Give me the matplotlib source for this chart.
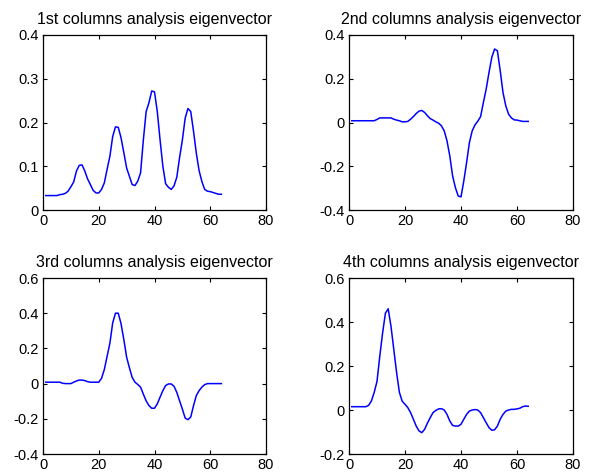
import matplotlib
matplotlib.use("Agg")
import matplotlib.pyplot as plt

plt.rcParams['font.family'] = ['Liberation Sans', 'DejaVu Sans']

x = list(range(1, 65))

col1 = [0.033, 0.033, 0.033, 0.033, 0.033, 0.035, 0.036, 0.038, 0.043, 0.053,
        0.064, 0.089, 0.102, 0.103, 0.089, 0.071, 0.058, 0.045, 0.039, 0.039,
        0.047, 0.062, 0.093, 0.123, 0.168, 0.190, 0.189, 0.165, 0.131, 0.096,
        0.077, 0.058, 0.056, 0.066, 0.085, 0.160, 0.225, 0.245, 0.272, 0.270,
        0.225, 0.160, 0.100, 0.060, 0.052, 0.047, 0.055, 0.075, 0.120, 0.160,
        0.210, 0.232, 0.225, 0.180, 0.130, 0.090, 0.065, 0.047, 0.043, 0.042,
        0.040, 0.038, 0.036, 0.036]

col2 = [0.008, 0.008, 0.008, 0.008, 0.008, 0.008, 0.008, 0.008, 0.008, 0.014,
        0.021, 0.021, 0.021, 0.021, 0.021, 0.015, 0.011, 0.008, 0.003, 0.003,
        0.005, 0.015, 0.027, 0.041, 0.052, 0.055, 0.046, 0.031, 0.018, 0.011,
        0.003, -0.003, -0.015, -0.038, -0.084, -0.153, -0.244, -0.298, -0.336, -0.340,
        -0.267, -0.183, -0.092, -0.038, -0.011, 0.006, 0.027, 0.092, 0.153, 0.229,
        0.298, 0.336, 0.328, 0.237, 0.137, 0.076, 0.038, 0.021, 0.012, 0.011,
        0.008, 0.005, 0.005, 0.005]

col3 = [0.008, 0.008, 0.008, 0.008, 0.008, 0.008, 0.002, 0.000, 0.000, 0.000,
        0.008, 0.015, 0.020, 0.020, 0.017, 0.011, 0.008, 0.008, 0.008, 0.008,
        0.030, 0.080, 0.155, 0.230, 0.345, 0.400, 0.400, 0.340, 0.250, 0.150,
        0.090, 0.035, 0.008, -0.005, -0.020, -0.060, -0.098, -0.125, -0.140, -0.140,
        -0.115, -0.077, -0.040, -0.011, -0.002, -0.002, -0.015, -0.050, -0.098, -0.145,
        -0.196, -0.205, -0.190, -0.125, -0.068, -0.040, -0.020, -0.006, 0.000, 0.000,
        0.000, 0.000, 0.000, 0.000]

col4 = [0.015, 0.015, 0.015, 0.015, 0.015, 0.015, 0.021, 0.041, 0.080, 0.130,
        0.245, 0.350, 0.440, 0.460, 0.380, 0.275, 0.170, 0.080, 0.040, 0.026,
        0.011, -0.012, -0.042, -0.073, -0.095, -0.103, -0.088, -0.060, -0.035, -0.012,
        -0.002, 0.005, 0.006, 0.000, -0.020, -0.050, -0.070, -0.073, -0.073, -0.065,
        -0.042, -0.020, -0.005, 0.000, 0.002, 0.000, -0.012, -0.035, -0.058, -0.080,
        -0.092, -0.090, -0.073, -0.042, -0.020, -0.005, 0.000, 0.003, 0.003, 0.005,
        0.008, 0.015, 0.018, 0.017]

titles = ["1st columns analysis eigenvector",
          "2nd columns analysis eigenvector",
          "3rd columns analysis eigenvector",
          "4th columns analysis eigenvector"]
series = [col1, col2, col3, col4]
ylims = [(0, 0.4), (-0.4, 0.4), (-0.4, 0.6), (-0.2, 0.6)]
yticks = [[0, 0.1, 0.2, 0.3, 0.4],
          [-0.4, -0.2, 0, 0.2, 0.4],
          [-0.4, -0.2, 0, 0.2, 0.4, 0.6],
          [-0.2, 0, 0.2, 0.4, 0.6]]
ytick_labels = [["0", "0.1", "0.2", "0.3", "0.4"],
                ["-0.4", "-0.2", "0", "0.2", "0.4"],
                ["-0.4", "-0.2", "0", "0.2", "0.4", "0.6"],
                ["-0.2", "0", "0.2", "0.4", "0.6"]]
xticks = [0, 20, 40, 60, 80]
xtick_labels = ["0", "20", "40", "60", "80"]

W, H = 594, 475
fig = plt.figure(figsize=(W / 100, H / 100), dpi=100)
fig.patch.set_facecolor('white')

boxes = [(43, 35, 266, 210), (349, 35, 573, 210),
         (43, 278, 266, 454), (349, 278, 573, 454)]

for i in range(4):
    l, t, r, b = boxes[i]
    ax = fig.add_axes([l / W, 1 - b / H, (r - l) / W, (b - t) / H])
    ax.plot(x, series[i], color=(0, 0, 1), linewidth=1.1)
    ax.set_xlim(0, 80)
    ax.set_ylim(*ylims[i])
    ax.set_xticks(xticks)
    ax.set_xticklabels(xtick_labels)
    ax.set_yticks(yticks[i])
    ax.set_yticklabels(ytick_labels[i])
    ax.tick_params(direction='in', top=True, right=True, length=3, width=0.8,
                   labelsize=10.5, colors='black', pad=3)
    for s in ax.spines.values():
        s.set_linewidth(0.9)
        s.set_color('black')
    ax.set_title(titles[i], fontsize=11.5, pad=8)

fig.savefig("out.png", dpi=100, facecolor='white')
